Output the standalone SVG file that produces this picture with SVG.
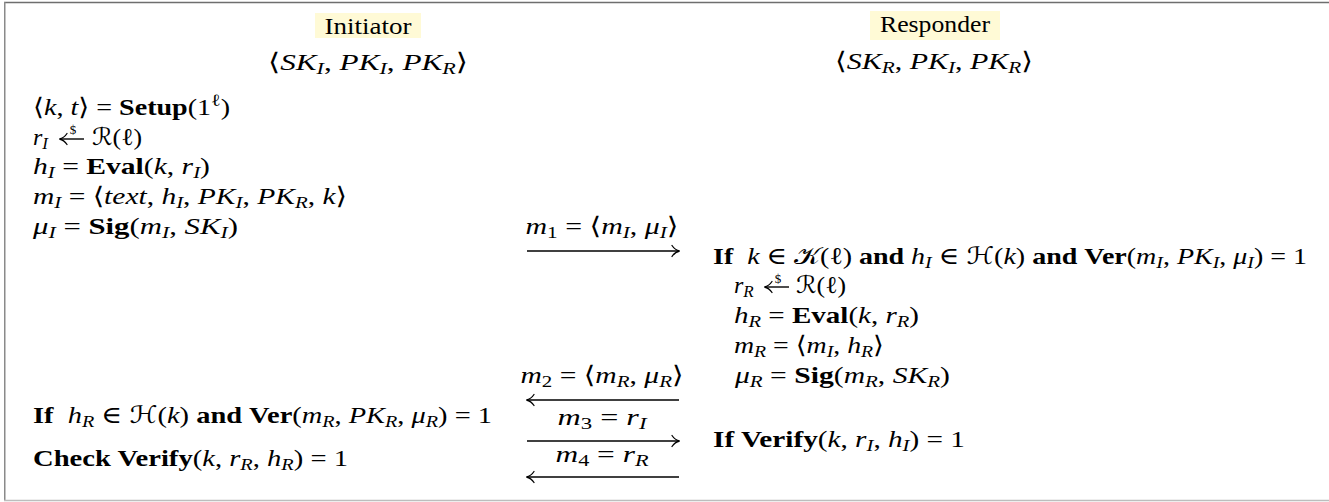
<svg xmlns="http://www.w3.org/2000/svg" width="1329" height="502" viewBox="0 0 1329 502">
<style>
.m{font-family:"Liberation Serif","DejaVu Serif","DejaVu Sans",serif;font-size:24px;fill:#000}
.i{font-style:italic}
.b{font-weight:bold}
.sub{font-size:17px;baseline-shift:-4px}
.sup{font-size:17px;baseline-shift:9px}
.dl{font-family:"Liberation Serif","DejaVu Serif",serif;font-size:13px;fill:#000}
.hl{fill:#fffad6}
.arr{stroke:#000;stroke-width:1.4;fill:none}
</style>
<defs>
<marker id="ah" markerUnits="userSpaceOnUse" viewBox="-10 -7 12 14" refX="0" refY="0" markerWidth="12" markerHeight="14" orient="auto" overflow="visible">
<path d="M -7 -5.5 Q -4 -1 0.6 0 Q -4 1 -7 5.5" fill="none" stroke="#000" stroke-width="1.3" stroke-linecap="round"/>
</marker>
</defs>
<rect x="0" y="0" width="1329" height="502" fill="#fff"/>
<line x1="4" y1="2.5" x2="1329" y2="2.5" stroke="#6e6e6e" stroke-width="1.5"/>
<line x1="4.75" y1="2" x2="4.75" y2="500.5" stroke="#8a8a8a" stroke-width="1.5"/>
<line x1="4" y1="500.5" x2="1329" y2="500.5" stroke="#bdbdbd" stroke-width="1.5"/>

<g id="initiator">
<rect class="hl" x="315" y="13" width="106" height="25"/>
<text class="m" x="368" y="33.5" text-anchor="middle" textLength="87" lengthAdjust="spacingAndGlyphs">Initiator</text>
<text class="m" x="268" y="70" textLength="200" lengthAdjust="spacingAndGlyphs">⟨<tspan class="i">SK</tspan><tspan class="sub i">I</tspan>, <tspan class="i">PK</tspan><tspan class="sub i">I</tspan>, <tspan class="i">PK</tspan><tspan class="sub i">R</tspan>⟩</text>
</g>

<g id="responder">
<rect class="hl" x="870" y="11" width="130" height="29"/>
<text class="m" x="935" y="31.5" text-anchor="middle" textLength="110" lengthAdjust="spacingAndGlyphs">Responder</text>
<text class="m" x="835" y="69" textLength="198" lengthAdjust="spacingAndGlyphs">⟨<tspan class="i">SK</tspan><tspan class="sub i">R</tspan>, <tspan class="i">PK</tspan><tspan class="sub i">I</tspan>, <tspan class="i">PK</tspan><tspan class="sub i">R</tspan>⟩</text>
</g>

<g id="initiator-steps">
<text class="m" x="33" y="115" textLength="197" lengthAdjust="spacingAndGlyphs">⟨<tspan class="i">k</tspan>, <tspan class="i">t</tspan>⟩ = <tspan class="b">Setup</tspan>(1<tspan class="sup">ℓ</tspan>)</text>
<text class="m" x="33" y="145"><tspan class="i">r</tspan><tspan class="sub i">I</tspan></text>
<line class="arr" x1="84" y1="139" x2="60" y2="139" marker-end="url(#ah)"/>
<text class="dl" x="73" y="133.5" text-anchor="middle">$</text>
<text class="m" x="92" y="145" textLength="50" lengthAdjust="spacingAndGlyphs">ℛ(ℓ)</text>
<text class="m" x="33" y="174" textLength="177" lengthAdjust="spacingAndGlyphs"><tspan class="i">h</tspan><tspan class="sub i">I</tspan> = <tspan class="b">Eval</tspan>(<tspan class="i">k</tspan>, <tspan class="i">r</tspan><tspan class="sub i">I</tspan>)</text>
<text class="m" x="33" y="204" textLength="314" lengthAdjust="spacingAndGlyphs"><tspan class="i">m</tspan><tspan class="sub i">I</tspan> = ⟨<tspan class="i">text</tspan>, <tspan class="i">h</tspan><tspan class="sub i">I</tspan>, <tspan class="i">PK</tspan><tspan class="sub i">I</tspan>, <tspan class="i">PK</tspan><tspan class="sub i">R</tspan>, <tspan class="i">k</tspan>⟩</text>
<text class="m" x="33" y="234" textLength="205" lengthAdjust="spacingAndGlyphs"><tspan class="i">μ</tspan><tspan class="sub i">I</tspan> = <tspan class="b">Sig</tspan>(<tspan class="i">m</tspan><tspan class="sub i">I</tspan>, <tspan class="i">SK</tspan><tspan class="sub i">I</tspan>)</text>
<text class="m" x="33" y="423" textLength="459" lengthAdjust="spacingAndGlyphs"><tspan class="b">If</tspan>&#8194;<tspan class="i">h</tspan><tspan class="sub i">R</tspan> ∈ ℋ(<tspan class="i">k</tspan>) <tspan class="b">and</tspan> <tspan class="b">Ver</tspan>(<tspan class="i">m</tspan><tspan class="sub i">R</tspan>, <tspan class="i">PK</tspan><tspan class="sub i">R</tspan>, <tspan class="i">μ</tspan><tspan class="sub i">R</tspan>) = 1</text>
<text class="m" x="33" y="466" textLength="315" lengthAdjust="spacingAndGlyphs"><tspan class="b">Check Verify</tspan>(<tspan class="i">k</tspan>, <tspan class="i">r</tspan><tspan class="sub i">R</tspan>, <tspan class="i">h</tspan><tspan class="sub i">R</tspan>) = 1</text>
</g>

<g id="responder-steps">
<text class="m" x="713" y="264" textLength="594" lengthAdjust="spacingAndGlyphs"><tspan class="b">If</tspan>&#8194;<tspan class="i">k</tspan> ∈ 𝒦(ℓ) <tspan class="b">and</tspan> <tspan class="i">h</tspan><tspan class="sub i">I</tspan> ∈ ℋ(<tspan class="i">k</tspan>) <tspan class="b">and</tspan> <tspan class="b">Ver</tspan>(<tspan class="i">m</tspan><tspan class="sub i">I</tspan>, <tspan class="i">PK</tspan><tspan class="sub i">I</tspan>, <tspan class="i">μ</tspan><tspan class="sub i">I</tspan>) = 1</text>
<text class="m" x="734" y="293"><tspan class="i">r</tspan><tspan class="sub i">R</tspan></text>
<line class="arr" x1="789" y1="287" x2="765" y2="287" marker-end="url(#ah)"/>
<text class="dl" x="778" y="282.5" text-anchor="middle">$</text>
<text class="m" x="796" y="293" textLength="50" lengthAdjust="spacingAndGlyphs">ℛ(ℓ)</text>
<text class="m" x="734" y="323" textLength="185" lengthAdjust="spacingAndGlyphs"><tspan class="i">h</tspan><tspan class="sub i">R</tspan> = <tspan class="b">Eval</tspan>(<tspan class="i">k</tspan>, <tspan class="i">r</tspan><tspan class="sub i">R</tspan>)</text>
<text class="m" x="734" y="353" textLength="150" lengthAdjust="spacingAndGlyphs"><tspan class="i">m</tspan><tspan class="sub i">R</tspan> = ⟨<tspan class="i">m</tspan><tspan class="sub i">I</tspan>, <tspan class="i">h</tspan><tspan class="sub i">R</tspan>⟩</text>
<text class="m" x="735" y="383" textLength="215" lengthAdjust="spacingAndGlyphs"><tspan class="i">μ</tspan><tspan class="sub i">R</tspan> = <tspan class="b">Sig</tspan>(<tspan class="i">m</tspan><tspan class="sub i">R</tspan>, <tspan class="i">SK</tspan><tspan class="sub i">R</tspan>)</text>
<text class="m" x="713" y="447" textLength="252" lengthAdjust="spacingAndGlyphs"><tspan class="b">If Verify</tspan>(<tspan class="i">k</tspan>, <tspan class="i">r</tspan><tspan class="sub i">I</tspan>, <tspan class="i">h</tspan><tspan class="sub i">I</tspan>) = 1</text>
</g>

<g id="connectors">
<line class="arr" x1="527" y1="251" x2="679" y2="251" marker-end="url(#ah)"/>
<text class="m" x="602" y="234" text-anchor="middle" textLength="153" lengthAdjust="spacingAndGlyphs"><tspan class="i">m</tspan><tspan class="sub">1</tspan> = ⟨<tspan class="i">m</tspan><tspan class="sub i">I</tspan>, <tspan class="i">μ</tspan><tspan class="sub i">I</tspan>⟩</text>
<line class="arr" x1="679" y1="400" x2="527" y2="400" marker-end="url(#ah)"/>
<text class="m" x="602" y="383" text-anchor="middle" textLength="163" lengthAdjust="spacingAndGlyphs"><tspan class="i">m</tspan><tspan class="sub">2</tspan> = ⟨<tspan class="i">m</tspan><tspan class="sub i">R</tspan>, <tspan class="i">μ</tspan><tspan class="sub i">R</tspan>⟩</text>
<line class="arr" x1="527" y1="441" x2="679" y2="441" marker-end="url(#ah)"/>
<text class="m" x="602" y="425" text-anchor="middle" textLength="89" lengthAdjust="spacingAndGlyphs"><tspan class="i">m</tspan><tspan class="sub">3</tspan> = <tspan class="i">r</tspan><tspan class="sub i">I</tspan></text>
<line class="arr" x1="679" y1="477" x2="527" y2="477" marker-end="url(#ah)"/>
<text class="m" x="602" y="462" text-anchor="middle" textLength="93" lengthAdjust="spacingAndGlyphs"><tspan class="i">m</tspan><tspan class="sub">4</tspan> = <tspan class="i">r</tspan><tspan class="sub i">R</tspan></text>
</g>
</svg>
